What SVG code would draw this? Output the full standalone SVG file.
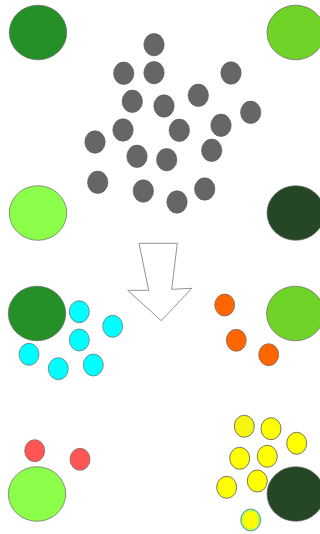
<svg xmlns="http://www.w3.org/2000/svg" width="320" height="534" viewBox="0 0 320 534">
<style>
.big{stroke:#666;stroke-width:0.7}
.g{fill:#666;stroke:#555;stroke-width:0.6}
.c{fill:#00ffff;stroke:#666;stroke-width:0.7}
.o{fill:#ff6600;stroke:#666;stroke-width:0.7}
.r{fill:#ff5555;stroke:#666;stroke-width:0.7}
.y{fill:#ffff00;stroke:#555;stroke-width:0.8}
.dg{fill:#259027}
.lg{fill:#70d327}
.pg{fill:#8cff4b}
.kg{fill:#264726}
</style>
<rect width="320" height="534" fill="#fff"/>
<g id="top">
<ellipse id="n-tl" class="big dg" cx="38" cy="32.5" rx="28.7" ry="27.3"/>
<ellipse id="n-tr" class="big lg" cx="295.7" cy="32.5" rx="28.7" ry="27.3"/>
<ellipse id="n-bl" class="big pg" cx="38" cy="213" rx="28.7" ry="27.3"/>
<ellipse id="n-br" class="big kg" cx="295.7" cy="213" rx="28.7" ry="27.3"/>
<g id="grays">
<ellipse class="g" cx="154" cy="44.7" rx="10.2" ry="11.2"/>
<ellipse class="g" cx="123.7" cy="73.3" rx="10.2" ry="11.2"/>
<ellipse class="g" cx="154" cy="72.7" rx="10.2" ry="11.2"/>
<ellipse class="g" cx="231" cy="73" rx="10.2" ry="11.2"/>
<ellipse class="g" cx="132.3" cy="101.3" rx="10.2" ry="11.2"/>
<ellipse class="g" cx="164" cy="106" rx="10.2" ry="11.2"/>
<ellipse class="g" cx="198.3" cy="95.3" rx="10.2" ry="11.2"/>
<ellipse class="g" cx="250.7" cy="112.3" rx="10.2" ry="11.2"/>
<ellipse class="g" cx="123" cy="130" rx="10.2" ry="11.2"/>
<ellipse class="g" cx="95" cy="142" rx="10.2" ry="11.2"/>
<ellipse class="g" cx="179.3" cy="130.3" rx="10.2" ry="11.2"/>
<ellipse class="g" cx="221" cy="125.3" rx="10.2" ry="11.2"/>
<ellipse class="g" cx="137" cy="156.3" rx="10.2" ry="11.2"/>
<ellipse class="g" cx="166.7" cy="159.7" rx="10.2" ry="11.2"/>
<ellipse class="g" cx="211.7" cy="150.3" rx="10.2" ry="11.2"/>
<ellipse class="g" cx="97.7" cy="182.3" rx="10.2" ry="11.2"/>
<ellipse class="g" cx="143.3" cy="191" rx="10.2" ry="11.2"/>
<ellipse class="g" cx="177" cy="202" rx="10.2" ry="11.2"/>
<ellipse class="g" cx="204.7" cy="189" rx="10.2" ry="11.2"/>
</g>
</g>
<g id="arrow">
<polygon points="139,243.3 177.3,243.3 171.7,289.3 191.7,288.3 161.3,320.7 127.7,290.3 148.7,290.3" fill="#fff" stroke="#777" stroke-width="0.8"/>
</g>
<g id="middle">
<ellipse id="n-ml" class="big dg" cx="37" cy="313.5" rx="28.7" ry="27.3"/>
<ellipse id="n-mr" class="big lg" cx="295.3" cy="313.5" rx="28.7" ry="27.3"/>
<ellipse class="c" cx="79.3" cy="311.7" rx="10" ry="11"/>
<ellipse class="c" cx="112.7" cy="326.3" rx="10" ry="11"/>
<ellipse class="c" cx="79.3" cy="340" rx="10" ry="11"/>
<ellipse class="c" cx="29" cy="354.3" rx="10" ry="11"/>
<ellipse class="c" cx="58.3" cy="368.7" rx="10" ry="11"/>
<ellipse class="c" cx="93.3" cy="365" rx="10" ry="11"/>
<ellipse class="o" cx="224.7" cy="305" rx="10" ry="11"/>
<ellipse class="o" cx="236.3" cy="340.3" rx="10" ry="11"/>
<ellipse class="o" cx="268.7" cy="354.7" rx="10" ry="11"/>
</g>
<g id="bottom">
<ellipse id="n-bbl" class="big pg" cx="37" cy="494" rx="28.7" ry="27.3"/>
<ellipse class="r" cx="34.7" cy="450.7" rx="10" ry="11"/>
<ellipse class="r" cx="80" cy="459.3" rx="10" ry="11"/>
<ellipse class="y" cx="244.3" cy="426.3" rx="10" ry="11" style="fill:#f5f511"/>
<ellipse class="y" cx="271" cy="428.7" rx="10" ry="11"/>
<ellipse class="y" cx="296.7" cy="443.3" rx="10" ry="11"/>
<ellipse class="y" cx="239.7" cy="458.3" rx="10" ry="11"/>
<ellipse class="y" cx="267.3" cy="456.3" rx="10" ry="11"/>
<ellipse class="y" cx="226.7" cy="487.3" rx="10" ry="11"/>
<ellipse class="y" cx="257.3" cy="481" rx="10" ry="11"/>
<ellipse id="n-bbr" class="big kg" cx="295.7" cy="494" rx="28.7" ry="27.3"/>
<ellipse class="c" cx="250.7" cy="520" rx="10" ry="11" style="fill:#7fff7f"/>
<ellipse cx="250.7" cy="520" rx="8.2" ry="9.2" fill="#ffff00"/>
</g>
</svg>
